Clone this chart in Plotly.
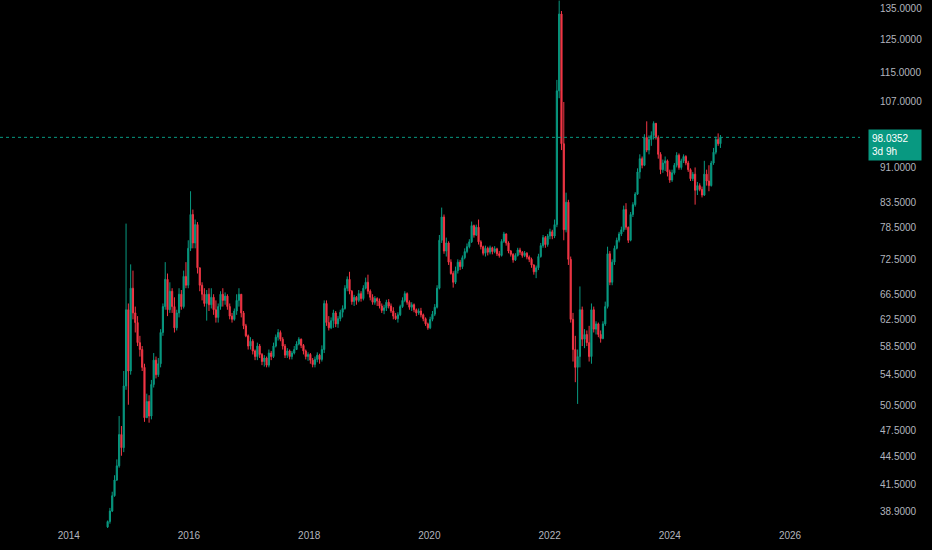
import numpy as np
import pandas as pd
import plotly.graph_objects as go

# two-week candles (log price scale)
start_date = "2014-08-25"
first_open = 37.4

closes = [
    37.9, 38.9, 40.4, 42.0, 43.5, 47.0, 45.5, 53.0, 64.0, 55.0,
    67.5, 63.5, 62.0, 59.0, 58.0, 55.5, 49.0, 51.0, 49.2, 53.2,
    56.5, 54.5, 56.0, 60.5, 64.5, 69.0, 64.0, 67.0, 64.5, 61.2,
    63.5, 66.5, 64.5, 69.5, 68.0, 74.5, 81.0, 75.5, 79.0, 71.0,
    68.0, 66.5, 65.0, 66.5, 64.8, 66.0, 64.0, 62.8, 64.5, 66.5,
    65.5, 66.2, 64.5, 63.0, 62.5, 63.8, 65.5, 66.5, 63.5, 61.5,
    60.0, 58.5, 59.2, 57.8, 57.0, 58.5, 57.3, 56.3, 56.8, 55.8,
    57.5, 57.0, 58.5, 59.8, 60.5, 59.5, 58.5, 57.2, 57.8, 57.0,
    57.5, 58.0, 58.8, 59.5, 58.6, 57.8, 57.0, 57.3, 56.5, 55.9,
    56.6, 57.2, 56.6, 58.0, 65.0, 62.0, 61.2, 62.3, 63.5, 61.8,
    62.6, 63.6, 64.2, 67.5, 69.0, 67.0, 65.3, 66.0, 65.5, 66.6,
    65.8, 67.5, 68.5, 67.0, 66.0, 65.2, 65.8, 65.4, 64.6, 63.9,
    64.3, 65.2, 64.6, 63.8, 63.0, 62.6, 63.2, 64.5, 65.5, 66.6,
    65.2, 64.4, 64.8, 64.0, 63.5, 63.8, 63.2, 62.6, 61.8, 61.2,
    62.5, 63.3, 64.4, 67.5, 76.0, 80.5, 74.0, 75.5, 72.0, 70.0,
    68.5, 70.5, 72.0, 71.2, 72.8, 73.9, 74.8, 75.7, 78.8, 77.0,
    78.5, 75.7, 74.8, 73.6, 74.5, 73.8, 74.6, 73.9, 74.4, 73.5,
    73.2, 75.8, 77.2, 75.5, 74.0, 73.4, 72.4, 73.2, 74.2, 73.8,
    73.2, 73.6, 72.9, 72.5, 71.5, 70.3, 71.0, 73.0, 75.0, 76.5,
    75.2, 76.8, 77.6, 76.8, 79.0, 110.0, 133.0, 96.5, 78.0, 83.5,
    72.5, 62.5, 58.0, 55.5, 57.0, 64.0, 59.5, 60.2, 59.0, 57.0,
    64.0, 61.0, 61.8, 60.2, 59.6, 61.8, 64.5, 73.5, 68.5, 72.0,
    74.5, 76.0, 77.2, 78.0, 82.0, 78.5, 76.0, 81.0, 83.0, 85.2,
    90.0, 93.0, 91.5, 98.0, 95.0, 97.5, 98.5, 101.5, 98.0, 94.0,
    90.5, 92.0, 92.5, 90.0, 88.2, 89.8, 91.5, 93.8, 91.0, 92.5,
    93.5, 92.0, 90.5, 88.5, 89.5, 86.0, 87.0, 86.2, 85.0, 89.5,
    88.0, 87.0, 92.0, 94.5, 97.5, 96.5, 98.0352,
]

highs = [
    38.0, 39.2, 40.8, 42.5, 44.2, 49.2, 48.0, 55.0, 79.2, 65.0,
    71.6, 70.5, 64.5, 63.0, 60.0, 58.5, 56.0, 52.0, 51.8, 53.8,
    57.5, 57.0, 56.8, 61.0, 65.0, 72.0, 70.0, 68.5, 67.5, 66.0,
    64.0, 67.5, 67.2, 70.5, 72.0, 76.0, 85.8, 82.0, 80.0, 79.5,
    71.0, 68.5, 67.5, 67.2, 67.5, 67.5, 66.5, 65.5, 65.0, 67.0,
    67.5, 66.8, 66.5, 65.0, 63.5, 64.2, 66.5, 67.5, 66.5, 63.8,
    61.8, 60.2, 59.8, 59.5, 58.0, 59.0, 58.8, 57.5, 57.2, 57.0,
    58.0, 57.8, 59.0, 60.2, 61.0, 60.8, 59.8, 58.8, 58.2, 58.0,
    57.8, 58.5, 59.2, 59.8, 59.6, 58.8, 58.0, 57.6, 57.5, 56.8,
    57.0, 57.6, 57.4, 58.6, 65.5, 65.5, 63.0, 62.8, 64.0, 63.8,
    63.0, 64.0, 64.7, 68.0, 69.5, 70.3, 67.2, 66.4, 66.2, 67.2,
    67.0, 68.0, 69.3, 69.8, 67.3, 66.5, 66.2, 66.0, 65.8, 65.0,
    64.8, 65.6, 65.7, 65.0, 64.4, 63.5, 63.6, 64.8, 66.0, 67.0,
    66.8, 65.5, 65.2, 65.0, 64.2, 64.2, 64.3, 63.4, 62.8, 62.0,
    62.9, 63.8, 64.9, 68.0, 77.0, 82.4, 81.0, 76.5, 75.8, 72.5,
    70.4, 71.2, 72.5, 72.4, 73.2, 74.5, 75.4, 76.2, 79.6, 79.0,
    79.0, 80.0, 76.0, 75.0, 75.0, 74.8, 75.0, 74.8, 74.9, 74.6,
    74.0, 76.2, 77.6, 77.3, 75.8, 74.2, 73.6, 73.6, 74.6, 74.6,
    74.0, 74.0, 73.8, 73.2, 72.8, 71.6, 71.4, 73.5, 75.5, 77.0,
    76.8, 77.2, 78.2, 78.0, 80.0, 113.0, 137.5, 134.0, 107.0, 85.5,
    84.0, 73.0, 63.5, 60.0, 58.0, 67.8, 64.5, 61.0, 60.8, 61.5,
    65.0, 64.5, 62.2, 62.0, 60.8, 62.2, 65.3, 74.8, 74.0, 72.5,
    75.0, 76.5, 77.6, 78.6, 82.8, 83.3, 78.6, 81.5, 83.5, 85.6,
    90.8, 94.0, 93.5, 98.8, 102.0, 98.5, 99.5, 102.0, 101.5, 98.5,
    94.5, 92.8, 93.5, 92.8, 90.5, 90.5, 92.0, 94.5, 94.2, 93.0,
    94.0, 93.8, 92.5, 90.8, 90.0, 91.0, 87.8, 87.5, 86.8, 92.5,
    90.5, 91.5, 92.5, 95.5, 98.2, 99.0, 98.6,
]

lows = [
    37.2, 37.7, 38.8, 40.3, 41.9, 43.3, 44.6, 45.0, 52.5, 50.6,
    54.5, 62.5, 60.5, 58.5, 57.0, 55.0, 48.5, 49.0, 48.4, 48.8,
    52.8, 54.0, 54.2, 55.5, 60.0, 64.0, 63.0, 63.5, 63.5, 60.5,
    60.8, 62.8, 64.0, 64.2, 67.5, 67.5, 74.0, 74.5, 74.5, 70.0,
    67.0, 65.5, 64.5, 62.3, 63.8, 64.2, 63.2, 62.0, 62.0, 64.0,
    64.5, 64.8, 64.0, 62.5, 62.0, 62.3, 63.2, 64.5, 62.8, 61.0,
    59.8, 58.0, 58.0, 57.3, 56.5, 56.5, 56.8, 55.8, 55.6, 55.5,
    55.5, 56.5, 56.8, 58.3, 59.3, 59.2, 58.0, 56.8, 56.8, 56.6,
    56.6, 57.3, 58.0, 58.6, 58.2, 57.3, 56.6, 56.4, 56.0, 55.5,
    55.5, 56.2, 56.0, 56.3, 57.5, 61.5, 60.8, 61.0, 61.2, 61.3,
    61.2, 62.2, 62.8, 64.0, 67.0, 66.5, 64.8, 64.6, 64.8, 65.2,
    65.3, 65.5, 67.3, 66.5, 65.5, 64.8, 64.8, 64.6, 64.2, 63.5,
    63.3, 63.8, 64.2, 63.5, 62.5, 62.4, 62.0, 63.0, 64.3, 65.2,
    64.8, 64.0, 63.8, 63.6, 63.0, 63.2, 62.8, 62.2, 61.5, 60.9,
    61.0, 62.2, 63.0, 64.2, 67.3, 75.5, 73.5, 73.0, 71.5, 69.8,
    67.6, 68.2, 70.0, 70.6, 70.8, 72.5, 73.6, 74.5, 75.5, 76.5,
    76.8, 75.2, 74.3, 73.2, 73.0, 73.2, 73.4, 73.4, 73.6, 73.1,
    72.8, 73.0, 75.5, 75.0, 73.6, 73.0, 71.9, 72.2, 73.0, 73.3,
    72.8, 72.9, 72.5, 72.0, 71.0, 69.8, 69.2, 70.6, 72.8, 74.6,
    74.6, 74.8, 76.2, 76.2, 76.4, 78.5, 108.0, 95.0, 76.0, 77.5,
    71.5, 62.0, 56.3, 53.5, 50.7, 55.5, 58.5, 58.2, 58.5, 56.3,
    56.0, 60.5, 60.2, 59.8, 59.0, 59.5, 61.5, 64.2, 68.0, 68.0,
    71.5, 74.3, 75.6, 76.8, 77.6, 78.0, 75.5, 75.8, 80.5, 82.6,
    85.0, 88.5, 90.8, 91.3, 94.5, 94.0, 96.0, 97.5, 97.5, 93.0,
    89.5, 89.8, 90.2, 89.0, 87.6, 87.8, 89.4, 91.0, 90.5, 90.5,
    92.0, 91.5, 90.0, 88.0, 88.0, 83.0, 85.0, 85.8, 84.5, 84.8,
    87.0, 85.8, 86.8, 91.6, 94.0, 96.0, 95.5,
]

price_ticks = [135, 125, 115, 107, 91, 83.5, 78.5, 72.5, 66.5, 62.5,
               58.5, 54.5, 50.5, 47.5, 44.5, 41.5, 38.9]
year_ticks = [2014, 2016, 2018, 2020, 2022, 2024, 2026]

last_price = closes[-1]
countdown = "3d 9h"

dates = pd.date_range(start_date, periods=len(closes), freq="14D")
# each candle opens where the previous one closed
opens = [first_open] + closes[:-1]
highs = [max(h, o, c) for h, o, c in zip(highs, opens, closes)]
lows = [min(l, o, c) for l, o, c in zip(lows, opens, closes)]

up = "#089981"
down = "#f23645"
label_color = "#b2b5be"
x_range = ["2012-11-09", "2027-03-02"]

fig = go.Figure()

fig.add_trace(
    go.Candlestick(
        x=dates,
        open=opens,
        high=highs,
        low=lows,
        close=closes,
        increasing=dict(line=dict(color=up, width=1), fillcolor=up),
        decreasing=dict(line=dict(color=down, width=1), fillcolor=down),
        whiskerwidth=0,
        showlegend=False,
        hoverinfo="skip",
    )
)

# dotted last price line
fig.add_trace(
    go.Scatter(
        x=x_range,
        y=[last_price, last_price],
        mode="lines",
        line=dict(color=up, width=1, dash="dot"),
        showlegend=False,
        hoverinfo="skip",
    )
)

fig.add_annotation(
    xref="paper", yref="y",
    x=1.0, y=np.log10(last_price),
    xanchor="left", yanchor="top",
    xshift=8, yshift=8,
    text=f"{last_price:.4f}<br>{countdown}",
    align="left",
    width=46,
    showarrow=False,
    bgcolor=up,
    borderpad=3,
    font=dict(color="#ffffff", size=10, family="Liberation Sans"),
)

fig.update_layout(
    width=932, height=550,
    paper_bgcolor="#000000",
    plot_bgcolor="#000000",
    margin=dict(l=0, r=72, t=0, b=22),
    font=dict(family="Liberation Sans", size=10, color=label_color),
    showlegend=False,
    xaxis=dict(
        type="date",
        range=x_range,
        rangeslider=dict(visible=False),
        showgrid=False, zeroline=False, showline=False,
        tickvals=[f"{y}-01-01" for y in year_ticks],
        ticktext=[str(y) for y in year_ticks],
        ticks="", tickfont=dict(size=10, color=label_color),
    ),
    yaxis=dict(
        type="log",
        side="right",
        range=[np.log10(37.3), np.log10(137.7)],
        showgrid=False, zeroline=False, showline=False,
        tickvals=price_ticks,
        ticktext=[f"{v:.4f}" for v in price_ticks],
        ticks="outside", ticklen=17, tickcolor="rgba(0,0,0,0)",
        tickfont=dict(size=10, color=label_color),
    ),
)

fig.write_html(
    "out.html",
    config={"displayModeBar": False},
    post_script="document.body.style.margin='0';document.body.style.background='#000';",
)
